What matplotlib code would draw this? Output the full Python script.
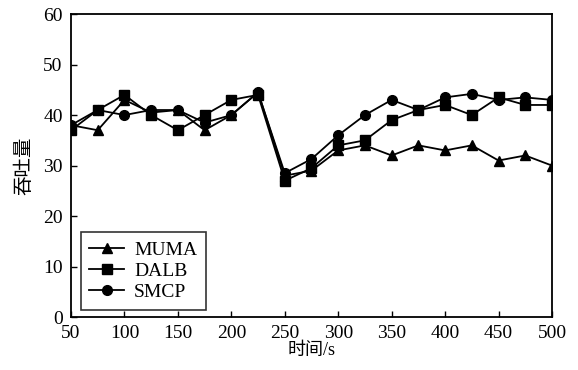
import matplotlib.pyplot as plt

plt.rcParams['font.family'] = ['Liberation Serif', 'Noto Sans CJK SC']

t = [50, 75, 100, 125, 150, 175, 200, 225, 250, 275, 300, 325, 350, 375, 400, 425, 450, 475, 500]
muma = [38, 37, 43, 40.5, 41, 37, 40, 44.5, 28, 29, 33, 34, 32, 34, 33, 34, 31, 32, 30]
dalb = [37, 41, 44, 40, 37, 40, 43, 44, 27, 29.5, 34, 35, 39, 41, 42, 40, 43.5, 42, 42]
smcp = [38, 41, 40, 41, 41, 38.5, 40, 44.5, 28.5, 31.3, 36, 40, 43, 41, 43.5, 44.2, 43, 43.5, 43]

fig = plt.figure(figsize=(5.78, 3.70), dpi=100)
ax = fig.add_axes([0.1228, 0.143, 0.8322, 0.819])

ax.plot(t, muma, color='black', marker='^', markersize=7, linewidth=1.3, label='MUMA')
ax.plot(t, dalb, color='black', marker='s', markersize=7, linewidth=1.3, label='DALB')
ax.plot(t, smcp, color='black', marker='o', markersize=7, linewidth=1.3, label='SMCP')

ax.set_xlim(50, 500)
ax.set_ylim(0, 60)
ax.set_xticks(range(50, 501, 50))
ax.set_yticks(range(0, 61, 10))
ax.tick_params(direction='in', labelsize=14, width=1, length=4, pad=6)
for s in ax.spines.values():
    s.set_linewidth(1.3)

ax.set_xlabel('时间/s', fontsize=13, labelpad=0)
ax.set_ylabel('吞吐量', fontsize=14, labelpad=7)

leg = ax.legend(loc='lower left', fontsize=14, fancybox=False, edgecolor='black',
                handlelength=1.8, handletextpad=0.5, labelspacing=0.18, borderpad=0.45,
                borderaxespad=0, bbox_to_anchor=(0.02, 0.025))
leg.get_frame().set_linewidth(1.2)

fig.savefig('out.png', dpi=100)
